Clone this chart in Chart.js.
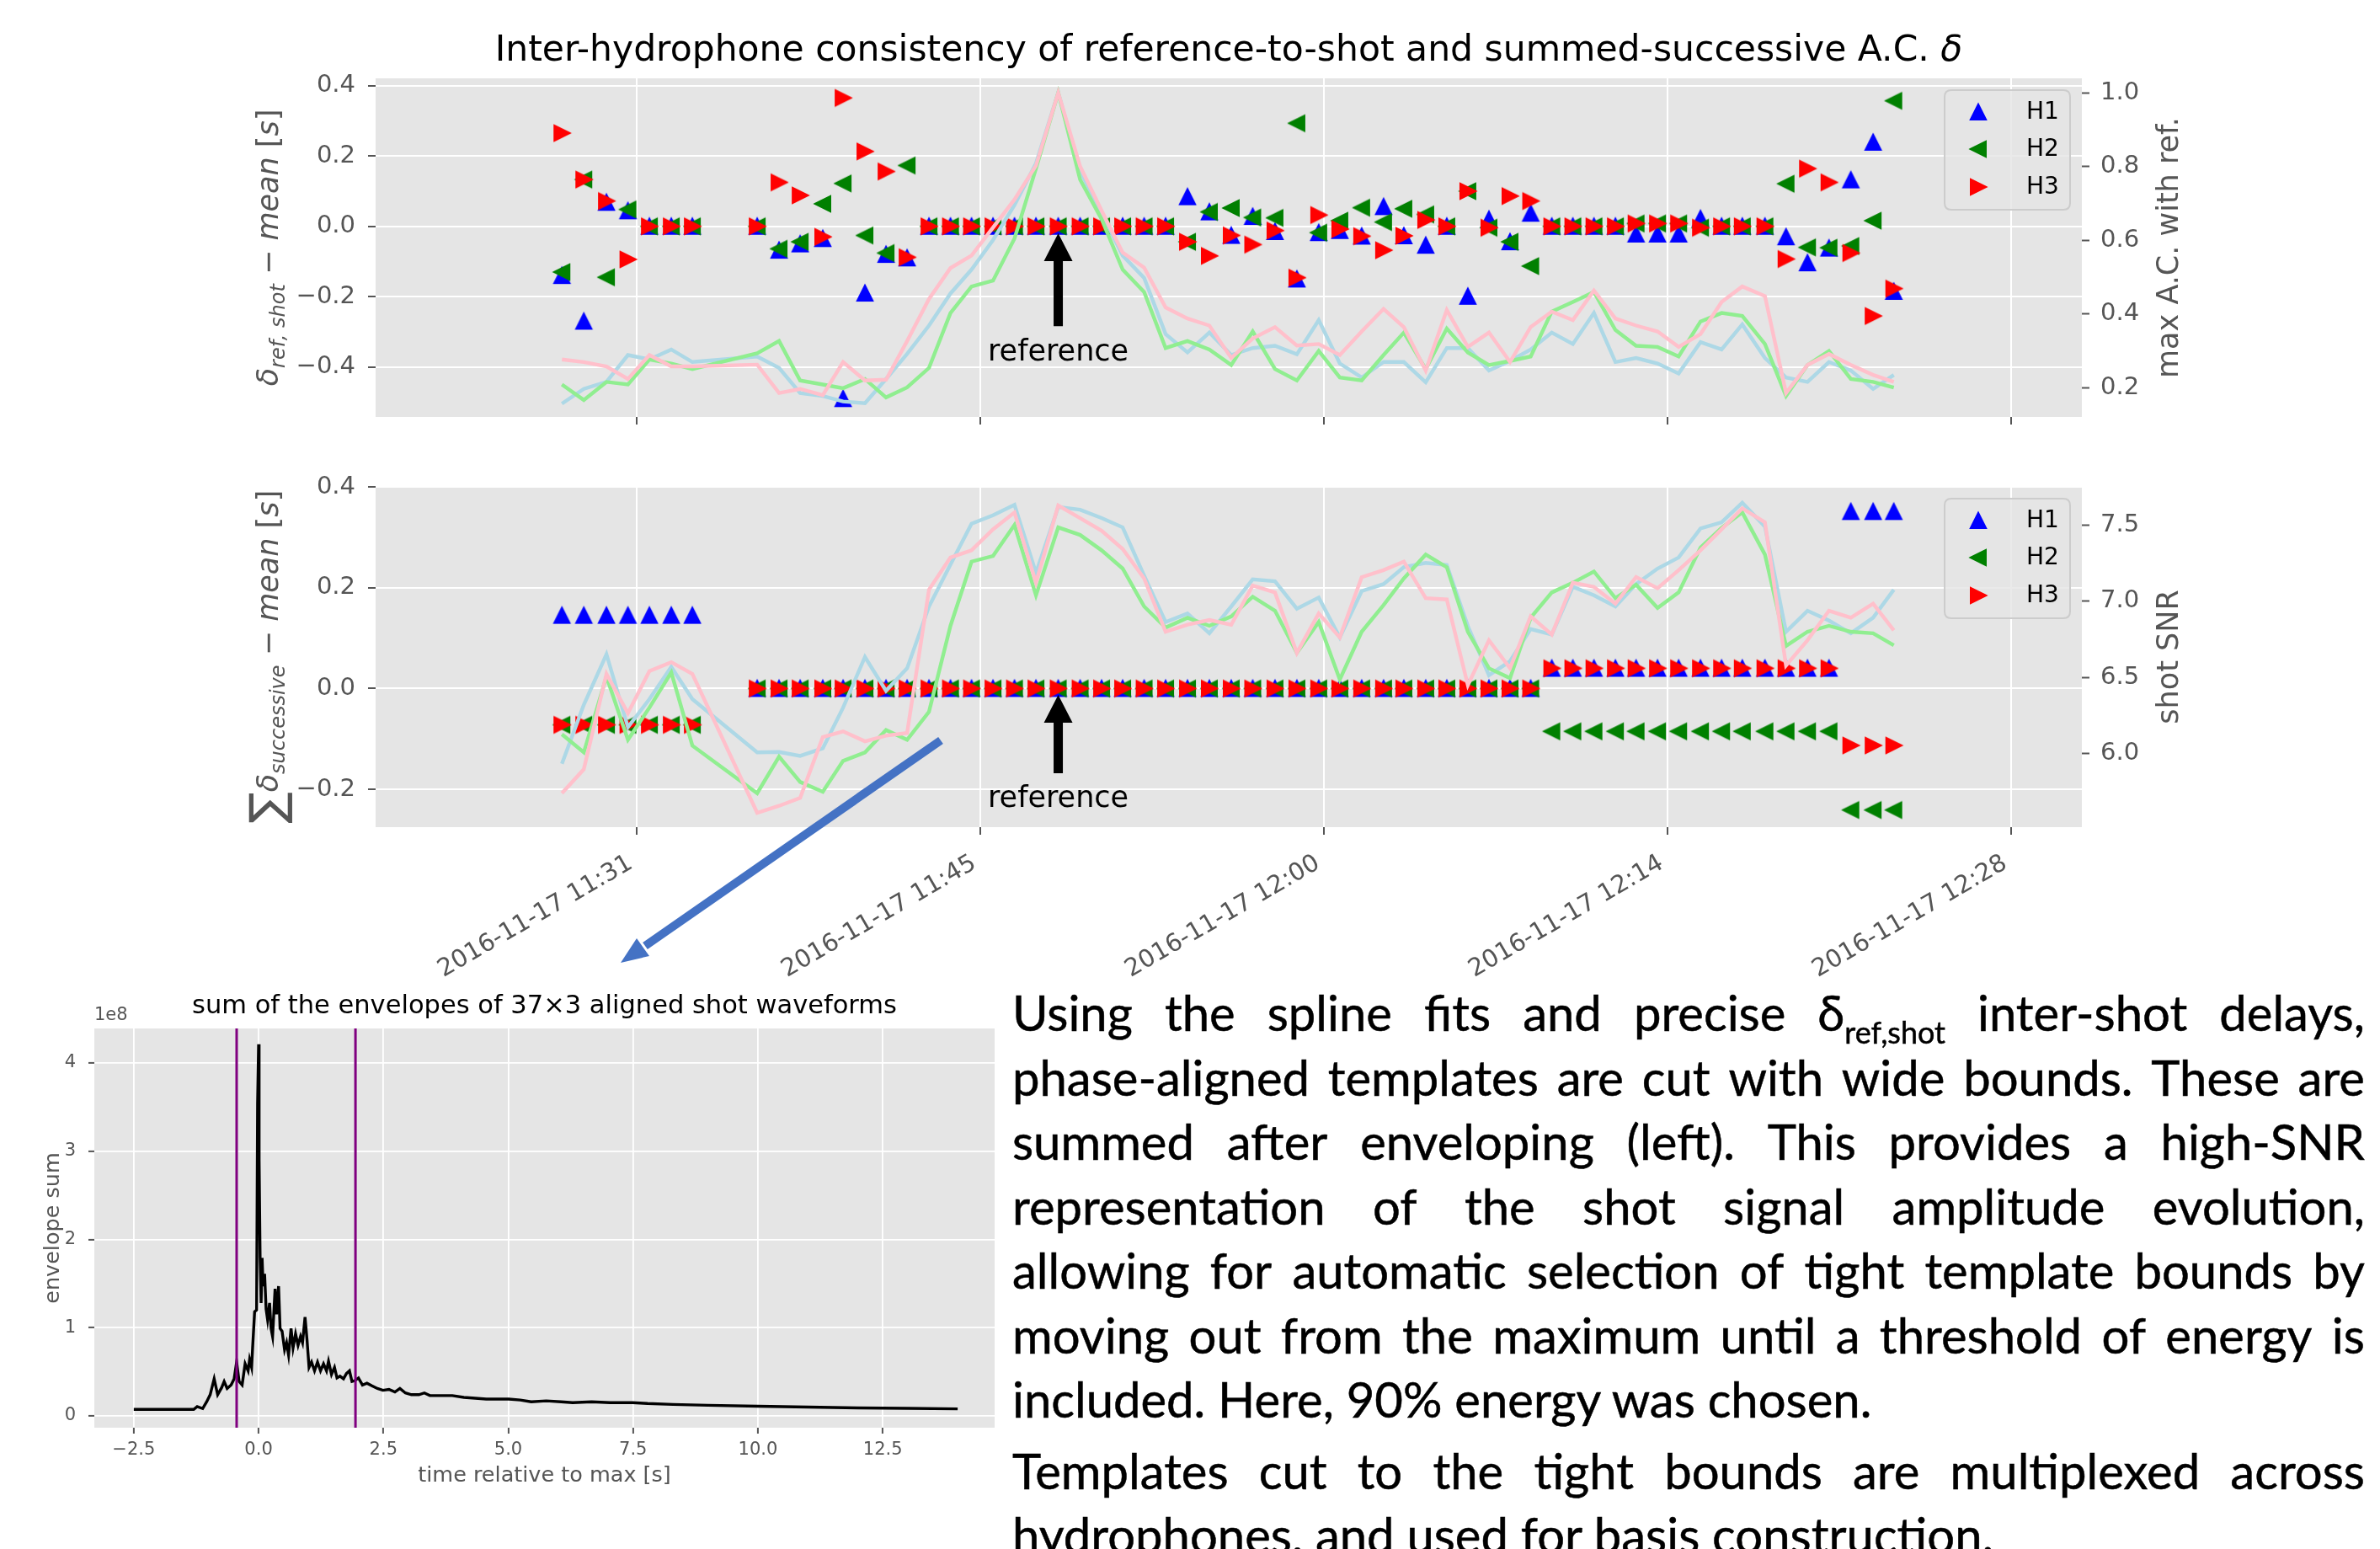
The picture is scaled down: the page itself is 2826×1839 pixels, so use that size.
<!DOCTYPE html>
<html lang="en">
<head>
<meta charset="utf-8">
<title>Shot delays and template bounds</title>
<script src="https://cdn.jsdelivr.net/npm/chart.js@4.4.1/dist/chart.umd.min.js"></script>
<style>
  html, body { margin: 0; padding: 0; background: #fff; }
  body { width: 2826px; height: 1839px; position: relative; overflow: hidden; }
  canvas { position: absolute; }
  #delayChart { left: 0; top: 0; }
  #sumChart { left: 0; top: 540px; }
  #envChart { left: 0; top: 1160px; }
  #pointer { position: absolute; left: 0; top: 0; pointer-events: none; }
  #notes { position: absolute; left: 1202px; top: 1164px; width: 1606px;
           font-family: Lato, "Open Sans", sans-serif; font-size: 58px; color: #000;
           -webkit-text-stroke: 0.5px #000; }
  #notes .ln { height: 76.5px; line-height: 76.5px; white-space: nowrap; }
  #notes .ln.just { display: flex; justify-content: space-between; align-items: baseline; }
  #notes .gap { height: 8px; }
  #notes sub { font-size: 0.62em; vertical-align: -15px; line-height: 0; }
</style>
</head>
<body>
<canvas id="delayChart" width="2826" height="560"></canvas>
<canvas id="sumChart" width="2826" height="660"></canvas>
<canvas id="envChart" width="1200" height="640"></canvas>
<svg id="pointer" width="2826" height="1839" viewBox="0 0 2826 1839">
  <line x1="1117" y1="879" x2="766" y2="1123" stroke="#4472C4" stroke-width="10"/>
  <polygon points="737,1143 771,1135 756,1114" fill="#4472C4"/>
</svg>
<div id="notes"></div>
<script>
// ---- shot times (2016-11-17) ----
const shotTimes = ['11:28:04','11:28:59','11:29:56','11:30:50','11:31:44','11:32:39','11:33:32',
  '11:36:15','11:37:10','11:38:03','11:39:00','11:39:51','11:40:46','11:41:39','11:42:32',
  '11:43:27','11:44:21','11:45:14','11:46:08','11:47:02','11:47:56','11:48:52','11:49:47','11:50:41','11:51:34','11:52:28','11:53:22',
  '11:54:17','11:55:12','11:56:07','11:57:01','11:57:57','11:58:52','11:59:47','12:00:40','12:01:35','12:02:30','12:03:21','12:04:16',
  '12:05:09','12:06:02','12:06:55','12:07:48','12:08:40',
  '12:09:33','12:10:26','12:11:19','12:12:13','12:13:05','12:13:59','12:14:52','12:15:47','12:16:40','12:17:32','12:18:29',
  '12:19:22','12:20:16','12:21:10','12:22:05','12:23:01','12:23:53'];
const referenceShot = '11:48:52';

// reference-to-shot delay minus mean [s]
const refDelayH1 = [-0.14,-0.27,0.068,0.044,0,0,0,
  0,-0.068,-0.05,-0.035,-0.49,-0.19,-0.08,-0.09,
  0,0,0,0,0,0,0,0,0,0,0,0,
  0.084,0.041,-0.026,0.028,-0.015,-0.15,-0.018,-0.012,-0.028,0.056,-0.027,-0.054,
  0,-0.199,0.02,-0.044,0.037,
  0,0,0,0,-0.022,-0.022,-0.022,0.022,0,0,0,
  -0.03,-0.104,-0.062,0.132,0.239,-0.185];
const refDelayH2 = [-0.13,0.133,-0.145,0.048,0,0,0,
  0,-0.064,-0.044,0.064,0.122,-0.026,-0.076,0.173,
  0,0,0,0,0,0,0,0,0,0,0,0,
  -0.044,0.041,0.052,0.025,0.024,0.293,-0.018,0.016,0.053,0.012,0.05,0.034,
  0,0.1,-0.004,-0.044,-0.113,
  0,0,0,0,0.008,0.008,0.008,-0.004,0,0,0,
  0.121,-0.06,-0.061,-0.056,0.016,0.357];
const refDelayH3 = [0.265,0.133,0.072,-0.094,0,0,0,
  0,0.125,0.088,-0.03,0.365,0.213,0.156,-0.088,
  0,0,0,0,0,0,0,0,0,0,0,0,
  -0.044,-0.084,-0.026,-0.052,-0.012,-0.146,0.032,-0.008,-0.028,-0.068,-0.027,0.018,
  0,0.1,-0.004,0.086,0.072,
  0,0,0,0,0.008,0.008,0.008,-0.004,0,0,0,
  -0.093,0.164,0.125,-0.076,-0.255,-0.177];

// max autocorrelation with the reference shot
const maxAcH1 = [0.156,0.196,0.215,0.288,0.276,0.303,0.269,
  0.284,0.253,0.185,0.177,0.162,0.157,0.223,0.291,
  0.368,0.455,0.52,0.6,0.695,0.808,1.0,0.787,0.673,0.558,0.497,0.345,
  0.295,0.349,0.288,0.307,0.313,0.29,0.383,0.265,0.227,0.269,0.269,0.214,
  0.307,0.307,0.246,0.272,0.303,
  0.349,0.318,0.402,0.269,0.28,0.265,0.238,0.323,0.303,0.371,0.28,
  0.227,0.215,0.269,0.246,0.196,0.234];
const maxAcH2 = [0.208,0.166,0.215,0.208,0.276,0.265,0.25,
  0.293,0.326,0.219,0.208,0.198,0.223,0.173,0.2,
  0.253,0.402,0.474,0.49,0.604,0.794,1.0,0.764,0.657,0.52,0.459,0.307,
  0.326,0.303,0.261,0.352,0.25,0.219,0.299,0.227,0.219,0.288,0.349,0.25,
  0.36,0.295,0.261,0.272,0.284,
  0.406,0.432,0.459,0.356,0.313,0.31,0.284,0.379,0.402,0.394,0.318,
  0.177,0.261,0.299,0.223,0.215,0.2];
const maxAcH3 = [0.276,0.269,0.257,0.223,0.288,0.257,0.257,
  0.262,0.185,0.196,0.179,0.269,0.219,0.221,0.326,
  0.44,0.524,0.558,0.634,0.71,0.802,1.0,0.8,0.68,0.566,0.525,0.417,
  0.387,0.368,0.28,0.333,0.364,0.314,0.318,0.288,0.352,0.413,0.364,0.246,
  0.41,0.31,0.349,0.269,0.364,
  0.406,0.383,0.463,0.387,0.368,0.352,0.31,0.345,0.432,0.474,0.448,
  0.185,0.261,0.291,0.261,0.234,0.215];

// summed successive delay minus mean [s]
const sumDelayH1 = [0.145,0.145,0.145,0.145,0.145,0.145,0.145,
  0,0,0,0,0,0,0,0,
  0,0,0,0,0,0,0,0,0,0,0,0,
  0,0,0,0,0,0,0,0,0,0,0,0,
  0,0,0,0,0,
  0.04,0.04,0.04,0.04,0.04,0.04,0.04,0.04,0.04,0.04,0.04,
  0.04,0.04,0.04,0.351,0.351,0.351];
const sumDelayH2 = [-0.072,-0.072,-0.072,-0.072,-0.072,-0.072,-0.072,
  0,0,0,0,0,0,0,0,
  0,0,0,0,0,0,0,0,0,0,0,0,
  0,0,0,0,0,0,0,0,0,0,0,0,
  0,0,0,0,0,
  -0.085,-0.085,-0.085,-0.085,-0.085,-0.085,-0.085,-0.085,-0.085,-0.085,-0.085,
  -0.085,-0.085,-0.085,-0.241,-0.241,-0.241];
const sumDelayH3 = [-0.072,-0.072,-0.072,-0.072,-0.072,-0.072,-0.072,
  0,0,0,0,0,0,0,0,
  0,0,0,0,0,0,0,0,0,0,0,0,
  0,0,0,0,0,0,0,0,0,0,0,0,
  0,0,0,0,0,
  0.04,0.04,0.04,0.04,0.04,0.04,0.04,0.04,0.04,0.04,0.04,
  0.04,0.04,0.04,-0.113,-0.113,-0.113];

// shot SNR
const snrH1 = [5.931,6.319,6.651,6.172,6.356,6.568,6.356,
  6.006,6.009,5.983,6.033,6.30,6.633,6.411,6.559,
  6.965,7.241,7.509,7.564,7.633,7.186,7.619,7.601,7.546,7.485,7.168,6.863,
  6.919,6.789,6.965,7.143,7.131,6.95,7.024,6.761,7.066,7.112,7.223,7.251,
  7.238,6.836,6.513,6.605,6.817,
  6.78,7.094,7.038,6.965,7.112,7.214,7.287,7.478,7.518,7.647,7.49,
  6.799,6.937,6.872,6.789,6.891,7.075];
const snrH2 = [6.125,6.006,6.504,6.089,6.30,6.531,6.051,
  5.738,5.978,5.812,5.747,5.95,6.006,6.153,6.089,
  6.273,6.838,7.26,7.297,7.50,7.038,7.485,7.435,7.334,7.214,6.965,6.826,
  6.891,6.838,6.9,7.029,6.937,6.66,6.863,6.485,6.799,6.974,7.149,7.306,
  7.223,6.799,6.559,6.494,6.891,
  7.057,7.121,7.195,7.02,7.108,6.955,7.057,7.352,7.481,7.583,7.306,
  6.706,6.799,6.838,6.799,6.789,6.71];
const snrH3 = [5.738,5.895,6.522,6.263,6.54,6.599,6.522,
  5.609,5.655,5.707,6.107,6.144,6.079,6.116,6.134,
  7.075,7.287,7.334,7.472,7.583,7.121,7.629,7.546,7.463,7.343,7.149,6.799,
  6.845,6.876,6.845,7.103,7.057,6.66,6.919,6.761,7.158,7.204,7.26,7.02,
  7.011,6.448,6.743,6.559,6.9,
  6.78,7.121,7.094,6.983,7.158,7.085,7.204,7.334,7.472,7.61,7.518,
  6.577,6.743,6.937,6.891,6.983,6.808];

// time axis ticks (minutes after midnight)
const timeTicks = [691.2, 705.6, 720, 734.4, 748.8];
const timeTickLabels = ['2016-11-17 11:31','2016-11-17 11:45','2016-11-17 12:00','2016-11-17 12:14','2016-11-17 12:28'];
const delayTicks = [-0.4, -0.2, 0, 0.2, 0.4];
const delayTickLabels = ['\u22120.4','\u22120.2','0.0','0.2','0.4'];
const acTicks = [0.2, 0.4, 0.6, 0.8, 1.0];
const acTickLabels = ['0.2','0.4','0.6','0.8','1.0'];
const sumTicks = [-0.2, 0, 0.2, 0.4];
const sumTickLabels = ['\u22120.2','0.0','0.2','0.4'];
const snrTicks = [6.0, 6.5, 7.0, 7.5];
const snrTickLabels = ['6.0','6.5','7.0','7.5'];

// summed envelope of the aligned shot waveforms (units of 1e8)
const envTime = [-2.5,-1.3,-1.23,-1.12,-1.04,-0.97,-0.89,-0.82,-0.74,-0.69,
  -0.63,-0.55,-0.49,-0.44,-0.39,-0.33,-0.27,-0.21,-0.18,-0.14,
  -0.12,-0.08,-0.04,-0.02,0.0,0.01,0.03,0.05,0.07,0.09,
  0.12,0.15,0.18,0.22,0.25,0.28,0.33,0.36,0.40,0.43,
  0.47,0.52,0.56,0.60,0.65,0.69,0.74,0.79,0.84,0.88,
  0.93,0.97,1.01,1.06,1.12,1.18,1.24,1.30,1.36,1.40,
  1.46,1.52,1.57,1.63,1.70,1.76,1.82,1.87,1.93,2.00,
  2.08,2.17,2.27,2.38,2.49,2.61,2.73,2.83,2.94,3.06,
  3.21,3.32,3.43,3.66,3.88,4.11,4.34,4.56,4.79,5.01,
  5.24,5.46,5.76,6.06,6.29,6.67,7.04,7.49,7.79,8.3,
  9.0,10.0,11.0,12.0,13.0,14.0];
const envSum = [0.073,0.073,0.105,0.083,0.16,0.24,0.42,0.24,0.32,0.39,
  0.31,0.35,0.42,0.61,0.39,0.35,0.59,0.51,0.64,0.55,
  0.77,1.18,1.20,3.54,4.21,2.9,1.79,1.28,1.79,1.47,
  1.61,1.21,1.09,1.28,0.99,0.90,1.44,1.15,1.47,0.99,
  0.96,0.75,0.83,0.69,0.99,0.77,0.93,0.80,0.90,0.83,
  1.12,0.86,0.55,0.61,0.51,0.61,0.51,0.59,0.51,0.62,
  0.47,0.55,0.43,0.45,0.42,0.48,0.51,0.39,0.40,0.43,
  0.35,0.37,0.34,0.31,0.29,0.30,0.27,0.31,0.26,0.24,
  0.24,0.26,0.23,0.23,0.23,0.21,0.20,0.19,0.19,0.19,
  0.18,0.16,0.17,0.16,0.15,0.16,0.15,0.15,0.14,0.13,
  0.12,0.11,0.10,0.09,0.085,0.08];
const tightBounds = [-0.44, 1.94];
const envTimeTicks = [-2.5, 0, 2.5, 5, 7.5, 10, 12.5];
const envTimeTickLabels = ['\u22122.5','0.0','2.5','5.0','7.5','10.0','12.5'];
const envSumTicks = [0, 1, 2, 3, 4];
const envSumTickLabels = ['0','1','2','3','4'];

// ---- helpers ----
const FONT = '"DejaVu Sans"';
const GREY = '#555555';
const PANEL = '#E5E5E5';
Chart.defaults.font.family = FONT;
Chart.defaults.color = GREY;

const toMinutes = s => { const [h, m, sec] = s.split(':').map(Number); return h * 60 + m + sec / 60; };
const shotMinutes = shotTimes.map(toMinutes);
const refMinutes = toMinutes(referenceShot);
const pts = vals => vals.map((v, i) => ({ x: shotMinutes[i], y: v }));

function triangleMarker(direction, color) {
  const size = 30, c = document.createElement('canvas');
  c.width = c.height = size;
  const g = c.getContext('2d'), m = size / 2, h = 8.7;
  g.beginPath();
  if (direction === 'up') { g.moveTo(m, m - h); g.lineTo(m - h, m + h); g.lineTo(m + h, m + h); }
  else if (direction === 'left') { g.moveTo(m - h, m); g.lineTo(m + h, m - h); g.lineTo(m + h, m + h); }
  else { g.moveTo(m + h, m); g.lineTo(m - h, m - h); g.lineTo(m - h, m + h); }
  g.closePath();
  g.fillStyle = color; g.fill();
  g.lineWidth = 2.6; g.lineJoin = 'miter'; g.strokeStyle = color; g.stroke();
  return c;
}
const markH1 = triangleMarker('up', '#0000FF');
const markH2 = triangleMarker('left', '#008000');
const markH3 = triangleMarker('right', '#FF0000');

function markerSet(label, vals, img, order) {
  return { label, data: pts(vals), pointStyle: img, pointRadius: 10, showLine: false, yAxisID: 'y', order };
}
function lineSet(label, vals, color, order) {
  return { label, data: pts(vals), borderColor: color, borderWidth: 4.4, pointRadius: 0,
           showLine: true, tension: 0, yAxisID: 'y2', order };
}

function drawParts(ctx, parts, x, y, rotate, color) {
  ctx.save();
  ctx.fillStyle = color; ctx.textAlign = 'left'; ctx.textBaseline = 'alphabetic';
  let total = 0;
  parts.forEach(p => { ctx.font = p.font; p.w = ctx.measureText(p.text).width; total += p.w; });
  ctx.translate(x, y);
  if (rotate) ctx.rotate(-Math.PI / 2);
  let cx = -total / 2;
  parts.forEach(p => { ctx.font = p.font; ctx.fillText(p.text, cx, p.dy || 0); cx += p.w; });
  ctx.restore();
}

function fillPanel(chart) {
  const { ctx, chartArea: a } = chart;
  ctx.save(); ctx.fillStyle = PANEL; ctx.fillRect(a.left, a.top, a.right - a.left, a.bottom - a.top); ctx.restore();
}

function drawLegend(ctx, a) {
  const bx = a.right - 163, by = a.top + 14, bw = 149, bh = 142, r = 8;
  ctx.save();
  ctx.beginPath();
  ctx.moveTo(bx + r, by); ctx.lineTo(bx + bw - r, by); ctx.quadraticCurveTo(bx + bw, by, bx + bw, by + r);
  ctx.lineTo(bx + bw, by + bh - r); ctx.quadraticCurveTo(bx + bw, by + bh, bx + bw - r, by + bh);
  ctx.lineTo(bx + r, by + bh); ctx.quadraticCurveTo(bx, by + bh, bx, by + bh - r);
  ctx.lineTo(bx, by + r); ctx.quadraticCurveTo(bx, by, bx + r, by);
  ctx.closePath();
  ctx.fillStyle = 'rgba(229,229,229,0.8)'; ctx.fill();
  ctx.lineWidth = 2; ctx.strokeStyle = '#CCCCCC'; ctx.stroke();
  const rows = [[markH1, 'H1', 40], [markH2, 'H2', 84], [markH3, 'H3', 129]];
  ctx.font = `28px ${FONT}`; ctx.fillStyle = '#000'; ctx.textBaseline = 'middle'; ctx.textAlign = 'left';
  rows.forEach(([img, label, dy]) => {
    ctx.drawImage(img, a.right - 123 - img.width / 2, a.top + dy - img.height / 2);
    ctx.fillText(label, a.right - 66, a.top + dy + 1);
  });
  ctx.restore();
}

function drawReference(chart, tipVal, tailVal, textVal) {
  const { ctx, scales } = chart;
  const x = scales.x.getPixelForValue(refMinutes);
  const tip = scales.y.getPixelForValue(tipVal), tail = scales.y.getPixelForValue(tailVal);
  const shaft = 11, headW = 34, headL = 33;
  ctx.save();
  ctx.fillStyle = '#000';
  ctx.beginPath();
  ctx.moveTo(x, tip);
  ctx.lineTo(x + headW / 2, tip + headL); ctx.lineTo(x + shaft / 2, tip + headL);
  ctx.lineTo(x + shaft / 2, tail); ctx.lineTo(x - shaft / 2, tail);
  ctx.lineTo(x - shaft / 2, tip + headL); ctx.lineTo(x - headW / 2, tip + headL);
  ctx.closePath(); ctx.fill();
  ctx.font = `35px ${FONT}`; ctx.textAlign = 'center'; ctx.textBaseline = 'alphabetic';
  ctx.fillText('reference', x, scales.y.getPixelForValue(textVal));
  ctx.restore();
}

const gridStyle = { color: '#FFFFFF', lineWidth: 2, tickColor: GREY, tickWidth: 2, tickLength: 9, drawTicks: true };
const tickOnly = { display: true, drawOnChartArea: false, tickColor: GREY, tickWidth: 2, tickLength: 9 };

function setTicks(values) { return axis => { axis.ticks = values.map(v => ({ value: v })); }; }

function timeAxis(showLabels, height) {
  return {
    type: 'linear', position: 'bottom', min: 680.259, max: 751.765,
    afterBuildTicks: setTicks(timeTicks),
    afterFit: s => { s.height = height; },
    grid: gridStyle, border: { display: false },
    ticks: { display: showLabels, autoSkip: false, maxRotation: 30, minRotation: 30,
             padding: 17, labelOffset: -7, font: { size: 29 }, color: GREY,
             callback: (v, i) => timeTickLabels[i] }
  };
}
function valueAxis(pos, min, max, ticks, labels, width, grid) {
  return {
    type: 'linear', position: pos, min, max,
    afterBuildTicks: setTicks(ticks),
    afterFit: s => { s.width = width; },
    grid, border: { display: false },
    ticks: { autoSkip: false, padding: pos === 'left' ? 15 : 13, font: { size: 29 }, color: GREY,
             callback: (v, i) => labels[i] }
  };
}

const baseOptions = { responsive: false, animation: false, devicePixelRatio: 1, events: [],
  plugins: { legend: { display: false }, tooltip: { enabled: false }, title: { display: false } } };

// ---- top panel: reference-to-shot delays and max A.C. ----
new Chart(document.getElementById('delayChart'), {
  type: 'scatter',
  data: { datasets: [
    markerSet('H1', refDelayH1, markH1, 6),
    markerSet('H2', refDelayH2, markH2, 5),
    markerSet('H3', refDelayH3, markH3, 4),
    lineSet('H1 A.C.', maxAcH1, '#ADD8E6', 3),
    lineSet('H2 A.C.', maxAcH2, '#90EE90', 2),
    lineSet('H3 A.C.', maxAcH3, '#FFC0CB', 1)
  ] },
  options: Object.assign({}, baseOptions, {
    layout: { padding: { top: 93, left: 0, right: 0, bottom: 0 } },
    scales: {
      x: timeAxis(false, 65),
      y: valueAxis('left', -0.542, 0.4208, delayTicks, delayTickLabels, 446, gridStyle),
      y2: valueAxis('right', 0.12, 1.0389, acTicks, acTickLabels, 354, tickOnly)
    }
  }),
  plugins: [{
    id: 'delayDecor',
    beforeDraw: fillPanel,
    afterDraw(chart) {
      const { ctx, chartArea: a } = chart;
      const mid = (a.top + a.bottom) / 2;
      drawParts(ctx, [
        { text: 'Inter-hydrophone consistency of reference-to-shot and summed-successive A.C. ', font: `42.5px ${FONT}` },
        { text: '\u03B4', font: `italic 42.5px ${FONT}` }
      ], (a.left + a.right) / 2, 72, false, '#000');
      drawParts(ctx, [
        { text: '\u03B4', font: `italic 35px ${FONT}` },
        { text: 'ref, shot', font: `italic 24px ${FONT}`, dy: 8 },
        { text: ' \u2212 ', font: `35px ${FONT}` },
        { text: 'mean', font: `italic 35px ${FONT}` },
        { text: ' [', font: `35px ${FONT}` },
        { text: 's', font: `italic 35px ${FONT}` },
        { text: ']', font: `35px ${FONT}` }
      ], 330, mid, true, GREY);
      drawParts(ctx, [{ text: 'max A.C. with ref.', font: `35px ${FONT}` }], 2586, mid, true, GREY);
      drawReference(chart, -0.02, -0.284, -0.382);
      drawLegend(ctx, a);
    }
  }]
});

// ---- middle panel: summed successive delays and shot SNR ----
new Chart(document.getElementById('sumChart'), {
  type: 'scatter',
  data: { datasets: [
    markerSet('H1', sumDelayH1, markH1, 6),
    markerSet('H2', sumDelayH2, markH2, 5),
    markerSet('H3', sumDelayH3, markH3, 4),
    lineSet('H1 SNR', snrH1, '#ADD8E6', 3),
    lineSet('H2 SNR', snrH2, '#90EE90', 2),
    lineSet('H3 SNR', snrH3, '#FFC0CB', 1)
  ] },
  options: Object.assign({}, baseOptions, {
    layout: { padding: { top: 38, left: 0, right: 0, bottom: 0 } },
    scales: {
      x: timeAxis(true, 218),
      y: valueAxis('left', -0.275, 0.4, sumTicks, sumTickLabels, 446, gridStyle),
      y2: valueAxis('right', 5.515, 7.751, snrTicks, snrTickLabels, 354, tickOnly)
    }
  }),
  plugins: [{
    id: 'sumDecor',
    beforeDraw: fillPanel,
    afterDraw(chart) {
      const { ctx, chartArea: a } = chart;
      const mid = (a.top + a.bottom) / 2;
      drawParts(ctx, [
        { text: '\u2211', font: `56px ${FONT}`, dy: 6 },
        { text: '\u03B4', font: `italic 35px ${FONT}` },
        { text: 'successive', font: `italic 24px ${FONT}`, dy: 8 },
        { text: ' \u2212 ', font: `35px ${FONT}` },
        { text: 'mean', font: `italic 35px ${FONT}` },
        { text: ' [', font: `35px ${FONT}` },
        { text: 's', font: `italic 35px ${FONT}` },
        { text: ']', font: `35px ${FONT}` }
      ], 330, mid, true, GREY);
      drawParts(ctx, [{ text: 'shot SNR', font: `35px ${FONT}` }], 2586, mid, true, GREY);
      drawReference(chart, -0.0127, -0.168, -0.235);
      drawLegend(ctx, a);
    }
  }]
});

// ---- bottom-left panel: summed envelopes ----
const envMin = -0.134, envMax = 4.39;
new Chart(document.getElementById('envChart'), {
  type: 'scatter',
  data: { datasets: [
    { label: 'envelope sum', data: envTime.map((t, i) => ({ x: t, y: envSum[i] })),
      showLine: true, borderColor: '#000000', borderWidth: 3.4, pointRadius: 0, tension: 0, order: 1 },
    { label: 'lower bound', data: [{ x: tightBounds[0], y: envMin }, { x: tightBounds[0], y: envMax }],
      showLine: true, borderColor: '#800080', borderWidth: 3, pointRadius: 0, order: 0 },
    { label: 'upper bound', data: [{ x: tightBounds[1], y: envMin }, { x: tightBounds[1], y: envMax }],
      showLine: true, borderColor: '#800080', borderWidth: 3, pointRadius: 0, order: 0 }
  ] },
  options: Object.assign({}, baseOptions, {
    layout: { padding: { top: 61, left: 0, right: 19, bottom: 0 } },
    scales: {
      x: { type: 'linear', min: -3.29, max: 14.74, afterBuildTicks: setTicks(envTimeTicks),
           afterFit: s => { s.height = 105; },
           grid: Object.assign({}, gridStyle, { tickLength: 7, lineWidth: 1.8 }), border: { display: false },
           ticks: { autoSkip: false, maxRotation: 0, minRotation: 0, padding: 7, font: { size: 21 }, color: GREY,
                    callback: (v, i) => envTimeTickLabels[i] } },
      y: { type: 'linear', min: envMin, max: envMax, afterBuildTicks: setTicks(envSumTicks),
           afterFit: s => { s.width = 112; },
           grid: Object.assign({}, gridStyle, { tickLength: 7, lineWidth: 1.8 }), border: { display: false },
           ticks: { autoSkip: false, padding: 15, font: { size: 21 }, color: GREY,
                    callback: (v, i) => envSumTickLabels[i] } }
    }
  }),
  plugins: [{
    id: 'envDecor',
    beforeDraw: fillPanel,
    afterDraw(chart) {
      const { ctx, chartArea: a } = chart;
      drawParts(ctx, [{ text: 'sum of the envelopes of 37\u00D73 aligned shot waveforms', font: `30.5px ${FONT}` }],
                (a.left + a.right) / 2, 43, false, '#000');
      ctx.save();
      ctx.font = `21px ${FONT}`; ctx.fillStyle = GREY; ctx.textAlign = 'left'; ctx.textBaseline = 'middle';
      ctx.fillText('1e8', a.left, 45.5);
      ctx.restore();
      drawParts(ctx, [{ text: 'time relative to max [s]', font: `25.5px ${FONT}` }], (a.left + a.right) / 2, 599, false, GREY);
      drawParts(ctx, [{ text: 'envelope sum', font: `25.5px ${FONT}` }], 70, (a.top + a.bottom) / 2, true, GREY);
    }
  }]
});

// ---- explanatory text ----
const noteParagraphs = [
  ['Using the spline fits and precise \u03B4<sub>ref,shot</sub> inter-shot delays,',
   'phase-aligned templates are cut with wide bounds. These are',
   'summed after enveloping (left). This provides a high-SNR',
   'representation of the shot signal amplitude evolution,',
   'allowing for automatic selection of tight template bounds by',
   'moving out from the maximum until a threshold of energy is',
   'included. Here, 90% energy was chosen.'],
  ['Templates cut to the tight bounds are multiplexed across',
   'hydrophones, and used for basis construction.']
];
const notes = document.getElementById('notes');
noteParagraphs.forEach((para, p) => {
  if (p > 0) { const g = document.createElement('div'); g.className = 'gap'; notes.appendChild(g); }
  para.forEach((line, i) => {
    const div = document.createElement('div');
    const last = i === para.length - 1;
    div.className = last ? 'ln' : 'ln just';
    if (last) div.innerHTML = line;
    else div.innerHTML = line.split(' ').map(w => `<span>${w}</span>`).join('');
    notes.appendChild(div);
  });
});
function fitLines() {
  document.querySelectorAll('#notes .just').forEach(el => {
    el.style.letterSpacing = '';
    const kids = [...el.children];
    const natural = kids.reduce((s, c) => s + c.getBoundingClientRect().width, 0);
    const minGap = 0.2 * 58 * (kids.length - 1);
    const room = el.clientWidth;
    if (natural + minGap > room) {
      el.style.letterSpacing = ((room - natural - minGap) / el.textContent.length) + 'px';
    }
  });
}
fitLines();
if (document.fonts && document.fonts.ready) document.fonts.ready.then(fitLines);
</script>
</body>
</html>
